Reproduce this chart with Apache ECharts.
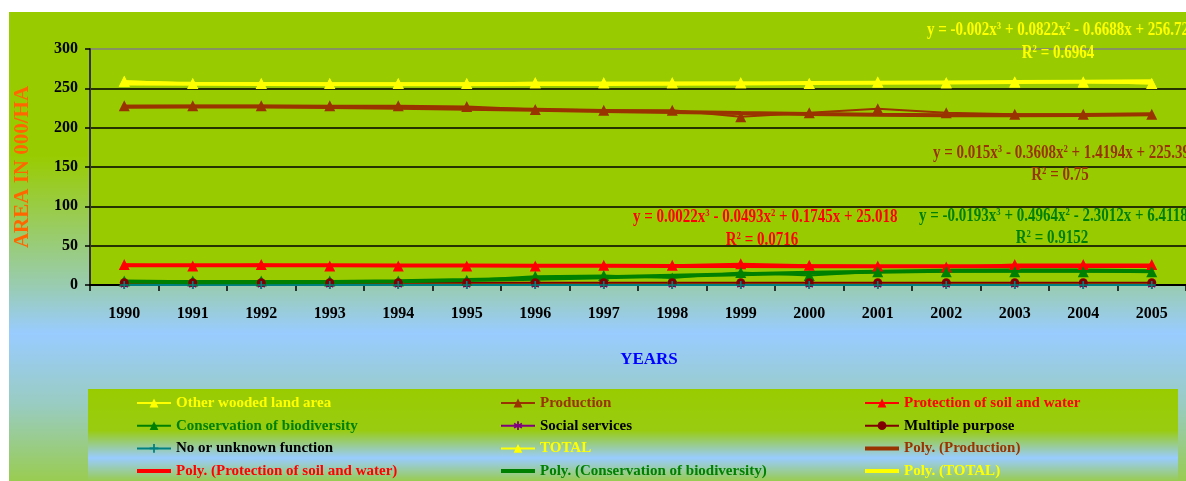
<!DOCTYPE html>
<html>
<head>
<meta charset="utf-8">
<script src="https://cdn.jsdelivr.net/npm/echarts@6/dist/echarts.min.js"></script>
<style>
  html, body { margin: 0; padding: 0; background: #fff; }
  #chartForest { width: 1186px; height: 481px; }
</style>
</head>
<body>
<div id="chartForest"></div>
<script>
// data (000 ha)
var years = ["1990", "1991", "1992", "1993", "1994", "1995", "1996", "1997",
             "1998", "1999", "2000", "2001", "2002", "2003", "2004", "2005"];
var otherWooded = [259, 256, 256, 256, 256, 256, 257, 257, 257, 257, 256, 258, 257, 258, 258, 256];
var production = [228, 228, 228, 228, 228, 227, 223, 222, 222, 214, 219, 224, 219, 217, 217, 217];
var protection = [26, 24, 26, 24, 24, 24, 24, 25, 25, 27, 25, 24, 23, 26, 26, 26];
var conservation = [5, 5, 5, 5, 5, 6, 11, 12, 9, 16, 12, 17, 17, 17, 17, 17];
var socialServices = [0, 0, 0, 0, 0, 0, 0, 0, 0, 0, 0, 0, 0, 0, 0, 0];
var multiplePurpose = [3, 3, 3, 3, 3, 3, 3, 3, 3, 3, 3, 3, 3, 3, 3, 3];
var noFunction = [0, 0, 0, 0, 0, 0, 0, 0, 0, 0, 0, 0, 0, 0, 0, 0];
var total = [259, 256, 256, 256, 256, 256, 257, 257, 257, 257, 256, 258, 257, 258, 258, 256];
// trend lines as they appear in the picture
var polyProduction = [226.5, 226.9, 226.8, 226.3, 225.3, 224.2, 222.8, 221.3, 219.9, 218.5, 217.3, 216.4, 215.8, 215.7, 216.1, 217.2];
var polyProtection = [25.2, 25.2, 25.2, 25.1, 24.9, 24.8, 24.6, 24.4, 24.2, 24.0, 23.9, 23.8, 23.8, 23.8, 24.0, 24.2];
var polyConservation = [4.6, 3.6, 3.5, 3.9, 4.9, 6.3, 8.0, 9.9, 11.8, 13.7, 15.5, 16.9, 18.0, 18.5, 18.5, 17.6];
var polyTotal = [256.1, 255.7, 255.4, 255.2, 255.2, 255.2, 255.4, 255.6, 255.9, 256.3, 256.7, 257.1, 257.5, 258.0, 258.4, 258.9];
var yTicks = [0, 50, 100, 150, 200, 250, 300];

var FONT = "Liberation Serif";
var ASTERISK = "path://M4,0h2v3.3l2.9,-1.6l1,1.7l-2.9,1.6l2.9,1.6l-1,1.7l-2.9,-1.6V10H4V6.7L1.1,8.3L0.1,6.6L3,5L0.1,3.4L1.1,1.7L4,3.3z";
var PLUS = "path://M4,0H6V4H10V6H6V10H4V6H0V4H4Z";
var THICK = "path://M0,0H34V4H0Z"; // legend icon for the trend lines

window.onload = function () {
  InitForestChart();
};

function dataLine(name, data, color, symbol, size) {
  return {
    name: name,
    type: "line",
    data: data,
    symbol: symbol,
    symbolSize: size,
    showAllSymbol: true,
    itemStyle: { color: color },
    lineStyle: { color: color, width: 2 },
  };
}

function polyLine(name, data, color) {
  return {
    name: name,
    type: "line",
    data: data,
    showSymbol: false,
    symbol: "none",
    itemStyle: { color: color },
    lineStyle: { color: color, width: 4 },
  };
}

// it = [name, text colour, isTrend]
function legendCol(left, items) {
  return {
    orient: "vertical",
    left: left,
    top: 395,
    height: 100,
    padding: 0,
    itemWidth: 34,
    itemHeight: 11,
    itemGap: 6.7,
    selectedMode: false,
    textStyle: { fontFamily: FONT, fontWeight: "bold", fontSize: 15, lineHeight: 16 },
    data: items.map(function (it) {
      var d = { name: it[0], textStyle: { color: it[1] } };
      if (it[2]) d.icon = THICK;
      return d;
    }),
  };
}

// equation text with superscripts, squeezed like the original
function eqText(x, y, text, color, align) {
  return {
    type: "text",
    x: x,
    y: y,
    scaleX: 0.79,
    z: 100,
    style: {
      text: text,
      align: align || "left",
      verticalAlign: "middle",
      fill: color,
      font: "bold 19px " + FONT,
      rich: {
        s: { fontSize: 11, fontWeight: "bold", fontFamily: FONT, fill: color, color: color, verticalAlign: "top", lineHeight: 19 },
        n: { fontSize: 19, fontWeight: "bold", fontFamily: FONT, fill: color, color: color, lineHeight: 19 },
      },
    },
  };
}

function InitForestChart() {
  var myChart = echarts.init(document.getElementById("chartForest"));
  var option = {
    animation: false,
    backgroundColor: "#ffffff",
    graphic: [
      {
        type: "rect",
        z: -10,
        shape: { x: 9, y: 12, width: 1190, height: 480 },
        style: {
          fill: new echarts.graphic.LinearGradient(0, 0, 0, 1, [
            { offset: 0, color: "#99CC00" },
            { offset: 0.3, color: "#99CC00" },
            { offset: 0.57, color: "#99CCB0" },
            { offset: 0.67, color: "#99CCFF" },
            { offset: 0.82, color: "#99CCC0" },
            { offset: 1, color: "#99CC40" },
          ]),
        },
      },
      {
        type: "rect",
        z: -5,
        shape: { x: 88, y: 389, width: 1090, height: 138 },
        style: {
          fill: new echarts.graphic.LinearGradient(0, 0, 0, 1, [
            { offset: 0, color: "#99CC00" },
            { offset: 0.3, color: "#99CC10" },
            { offset: 0.5, color: "#99CCFF" },
            { offset: 0.68, color: "#99CC40" },
            { offset: 1, color: "#99CC00" },
          ]),
        },
      },
      eqText(927, 30, "{n|y = -0.002x}{s|3}{n| + 0.0822x}{s|2}{n| - 0.6688x + 256.72}", "#FFFF00"),
      eqText(1058, 53, "{n|R}{s|2}{n| = 0.6964}", "#FFFF00", "center"),
      eqText(933, 153, "{n|y = 0.015x}{s|3}{n| - 0.3608x}{s|2}{n| + 1.4194x + 225.39}", "#993300"),
      eqText(1060, 175, "{n|R}{s|2}{n| = 0.75}", "#993300", "center"),
      eqText(633, 217, "{n|y = 0.0022x}{s|3}{n| - 0.0493x}{s|2}{n| + 0.1745x + 25.018}", "#FF0000"),
      eqText(762, 240, "{n|R}{s|2}{n| = 0.0716}", "#FF0000", "center"),
      eqText(919, 216, "{n|y = -0.0193x}{s|3}{n| + 0.4964x}{s|2}{n| - 2.3012x + 6.4118}", "#008000"),
      eqText(1052, 238, "{n|R}{s|2}{n| = 0.9152}", "#008000", "center"),
      {
        type: "text",
        x: 649,
        y: 360,
        z: 100,
        style: {
          text: "YEARS",
          align: "center",
          verticalAlign: "middle",
          fill: "#0000FF",
          font: "bold 17px " + FONT,
        },
      },
    ],
    legend: [
      legendCol(136, [
        ["Other wooded land area", "#FFFF00"],
        ["Conservation of biodiversity", "#008000"],
        ["No or unknown function", "#000000"],
        ["Poly. (Protection of soil and water)", "#FF0000", true],
      ]),
      legendCol(500, [
        ["Production", "#993300"],
        ["Social services", "#000000"],
        ["TOTAL", "#FFFF00"],
        ["Poly. (Conservation of biodiversity)", "#008000", true],
      ]),
      legendCol(864, [
        ["Protection of soil and water", "#FF0000"],
        ["Multiple purpose", "#000000"],
        ["Poly. (Production)", "#993300", true],
        ["Poly. (TOTAL)", "#FFFF00", true],
      ]),
    ],
    grid: {
      left: 90,
      top: 49,
      width: 1100,
      height: 236,
      show: true,
      backgroundColor: "#99CC00",
      borderWidth: 0,
    },
    xAxis: {
      type: "category",
      data: years,
      axisLine: { show: true, lineStyle: { color: "#000000", width: 2 } },
      axisTick: { show: true, length: 6, lineStyle: { color: "#000000", width: 1.5 } },
      axisLabel: { margin: 21, color: "#000000", fontFamily: FONT, fontWeight: "bold", fontSize: 16 },
      splitLine: { show: false },
    },
    yAxis: {
      type: "value",
      min: yTicks[0],
      max: yTicks[yTicks.length - 1],
      interval: 50,
      name: "AREA IN 000/HA",
      nameLocation: "middle",
      nameGap: 57,
      nameTextStyle: { color: "#FF6600", fontFamily: FONT, fontWeight: "bold", fontSize: 21 },
      axisLine: { show: true, lineStyle: { color: "#333333", width: 2 } },
      axisTick: { show: true, length: 5, lineStyle: { color: "#000000", width: 1.5 } },
      axisLabel: { margin: 12, color: "#000000", fontFamily: FONT, fontWeight: "bold", fontSize: 16 },
      splitLine: {
        show: true,
        lineStyle: {
          color: ["#000000", "#000000", "#000000", "#000000", "#000000", "#000000", "#808080"],
          width: 1.5,
        },
      },
    },
    series: [
      dataLine("Other wooded land area", otherWooded, "#FFFF00", "triangle", 11),
      dataLine("Production", production, "#993300", "triangle", 11),
      dataLine("Protection of soil and water", protection, "#FF0000", "triangle", 11),
      dataLine("Conservation of biodiversity", conservation, "#008000", "triangle", 11),
      dataLine("Social services", socialServices, "#800080", ASTERISK, 8),
      dataLine("Multiple purpose", multiplePurpose, "#800000", "circle", 9),
      dataLine("No or unknown function", noFunction, "#008080", PLUS, 8),
      dataLine("TOTAL", total, "#FFFF00", "triangle", 11),
      polyLine("Poly. (Production)", polyProduction, "#993300"),
      polyLine("Poly. (Protection of soil and water)", polyProtection, "#FF0000"),
      polyLine("Poly. (Conservation of biodiversity)", polyConservation, "#008000"),
      polyLine("Poly. (TOTAL)", polyTotal, "#FFFF00"),
    ],
  };
  myChart.setOption(option);
}
</script>
</body>
</html>
